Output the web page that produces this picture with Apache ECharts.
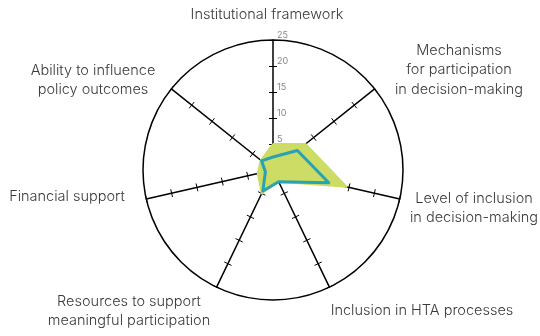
<!DOCTYPE html>
<html><head><meta charset="utf-8">
<script src="https://cdn.jsdelivr.net/npm/echarts@6/dist/echarts.min.js"></script>
<style>html,body{margin:0;padding:0;background:#fff}#c{width:540px;height:336px}</style>
</head><body><div id="c"></div>
<script>
// clockwise from top
const categories = ['Institutional framework','Mechanisms\nfor participation\nin decision-making','Level of inclusion\nin decision-making','Inclusion in HTA processes','Resources to support\nmeaningful participation','Financial support','Ability to influence\npolicy outcomes'];
const rangeValues = [5, 8, 14.5, 2.5, 5, 3, 3];
const countryValues = [2.5, 6, 11, 2.5, 4.5, 1.5, 2.8];
const tickValues = [0, 5, 10, 15, 20, 25];

const C = [273, 170], R = 130;
const labelPos = [[267,15],[459,70],[474,208],[422,311],[129,311],[67,197],[93,80]];
// ECharts radar runs counter-clockwise: reorder to clockwise
const order = [0, 6, 5, 4, 3, 2, 1];
const reorder = arr => order.map(i => arr[i]);
const chart = echarts.init(document.getElementById('c'));
const indicator = reorder(categories).map(n => ({name: n, min: tickValues[0], max: tickValues[tickValues.length-1]}));
const baseRadar = {
  center: C, radius: R, shape: 'circle', startAngle: 90,
  splitNumber: tickValues.length - 1, indicator: indicator,
  axisName: {show: false},
  splitLine: {show: false}, splitArea: {show: false}
};
chart.setOption({
  animation: false,
  radar: [
    Object.assign({}, baseRadar, {
      axisLine: {show: true, lineStyle: {color: '#000', width: 1.5}},
      axisTick: {show: true, length: 4, lineStyle: {color: '#000', width: 1}}
    }),
    Object.assign({}, baseRadar, {
      axisLine: {show: false},
      axisTick: {show: true, length: -4, lineStyle: {color: '#000', width: 1}}
    })
  ],
  polar: {center: C, radius: R},
  angleAxis: {type: 'value', min: 0, max: 360, startAngle: 90, silent: true,
    axisLine: {show: true, lineStyle: {color: '#000', width: 1.5}},
    axisTick: {show: false}, axisLabel: {show: false}, splitLine: {show: false}},
  radiusAxis: {type: 'value', min: tickValues[0], max: tickValues[tickValues.length-1], interval: 5,
    axisLine: {show: false}, splitLine: {show: false},
    axisTick: {show: false},
    axisLabel: {show: true, showMinLabel: false, margin: -4, align: 'left', color: '#888', fontSize: 9, fontFamily: 'Inter', verticalAlign: 'bottom'}},
  series: [{
    type: 'radar', radarIndex: 0, symbol: 'none', z: 2,
    data: [
      {value: reorder(rangeValues), lineStyle: {color: '#cddc64', width: 2}, areaStyle: {color: '#cddc64', opacity: 1}},
      {value: reorder(countryValues), lineStyle: {color: '#27a3b3', width: 3}}
    ]
  }],
  graphic: categories.map((n, i) => ({
    type: 'text', x: labelPos[i][0], y: labelPos[i][1], z: 10,
    style: {text: n, align: 'center', verticalAlign: 'middle', fill: '#3a3a3a', font: '300 14.5px Inter', lineHeight: 19.5}
  }))
});
</script></body></html>
